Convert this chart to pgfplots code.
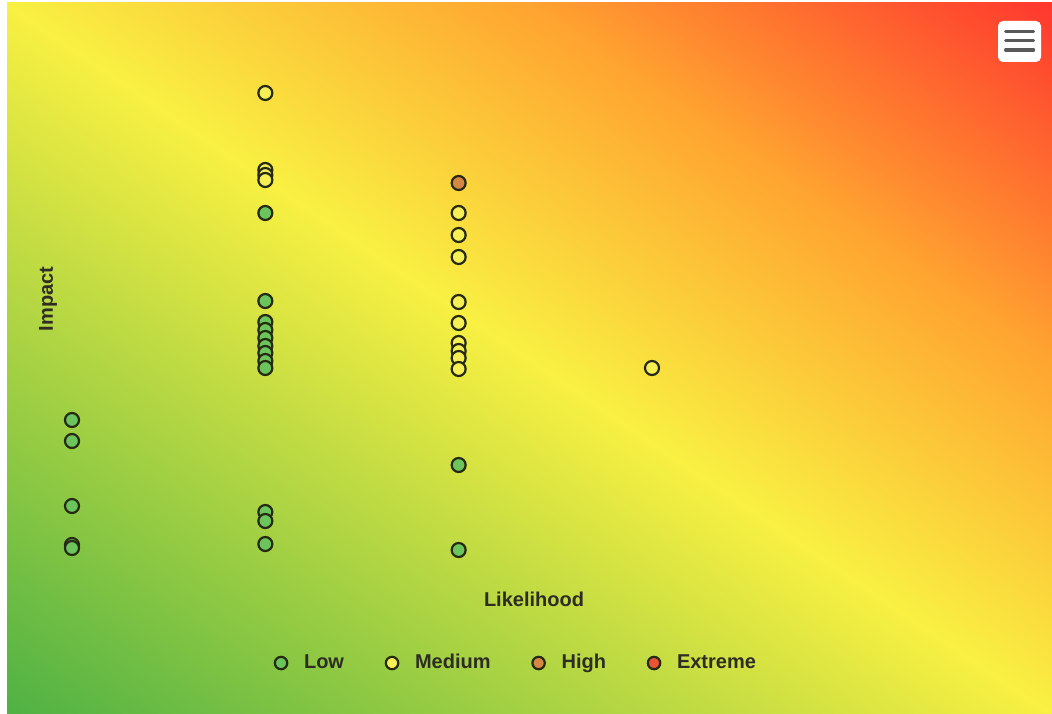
\documentclass[border=0pt]{standalone}
\usepackage{pgfplots}
\pgfplotsset{compat=1.18}
\usepackage{pgfplotstable}
\usepackage{fontspec}
\setmainfont{Liberation Sans}

\definecolor{cGreen}{RGB}{80,178,68}
\definecolor{cYellow}{RGB}{249,240,66}
\definecolor{cOrange}{RGB}{255,164,48}
\definecolor{cRed}{RGB}{255,56,46}
\definecolor{cEdge}{RGB}{38,42,18}
\definecolor{fLow}{RGB}{108,196,92}
\definecolor{fMed}{RGB}{246,240,84}
\definecolor{fHigh}{RGB}{214,136,66}
\definecolor{fExt}{RGB}{232,84,52}
\definecolor{cText}{RGB}{45,45,35}

\pgfdeclarehorizontalshading{riskgrad}{100bp}{color(0bp)=(cGreen); color(14.64bp)=(cGreen); color(50bp)=(cYellow); color(67.68bp)=(cOrange); color(85.36bp)=(cRed); color(100bp)=(cRed)}

\pgfplotstableread{
x y
1 3.60
1 3.18
1 1.88
1 1.10
1 1.04
2 7.74
2 5.98
2 5.56
2 5.40
2 5.24
2 5.08
2 4.94
2 4.78
2 4.64
2 1.76
2 1.58
2 1.12
3 2.70
3 1.00
}\lowdata

\pgfplotstableread{
x y
2 10.14
2 8.60
2 8.50
2 8.40
3 7.74
3 7.30
3 6.86
3 5.96
3 5.54
3 5.14
3 4.98
3 4.84
3 4.62
4 4.64
}\meddata

\pgfplotstableread{
x y
3 8.34
}\highdata

\begin{document}
\begin{tikzpicture}
\useasboundingbox (0,0) rectangle (526pt,356.5pt);
% background gradient (bounding-box diagonal gradient)
\begin{scope}[transform canvas={shift={(3.5pt,0pt)}, xscale=5.225, yscale=3.55}]
  \shade[shading=riskgrad, shading angle=45] (0,0) rectangle (100pt,100pt);
\end{scope}
% export menu button
\fill[white, rounded corners=2.5pt] (499pt,325.5pt) rectangle (520.5pt,346pt);
\foreach \yy in {340.6pt,336.1pt,331.5pt}{
  \draw[line width=1.6pt, line cap=round, black!65] (502.8pt,\yy) -- (516.8pt,\yy);
}
\begin{axis}[
  at={(0pt,0pt)}, anchor=south west,
  scale only axis, width=526pt, height=356.5pt,
  xmin=0.6276, xmax=6.069, ymin=-2.26, ymax=12,
  hide axis, clip=false,
  every axis plot/.append style={only marks, mark=*, mark size=3.5pt, line width=1.1pt},
  legend columns=4,
  legend image code/.code={\path[draw=none,fill=none] (-4pt,0pt) -- (8pt,0pt); \draw[#1, only marks, mark size=3.1pt] plot coordinates {(0pt,0pt)};},
  legend style={at={(0.4924,0.0701)}, anchor=center, draw=none, fill=none,
    font=\bfseries\color{cText}, nodes={inner sep=3.5pt},
    /tikz/every even column/.append style={column sep=16.5pt}},
]
\addplot[draw=cEdge, fill=fLow] table[x=x,y=y]{\lowdata};
\addlegendentry{Low}
\addplot[draw=cEdge, fill=fMed] table[x=x,y=y]{\meddata};
\addlegendentry{Medium}
\addplot[draw=cEdge, fill=fHigh] table[x=x,y=y]{\highdata};
\addlegendentry{High}
\addlegendimage{only marks, mark=*, line width=1.1pt, draw=cEdge, fill=fExt}
\addlegendentry{Extreme}
\end{axis}
\node[font=\bfseries, text=cText] at (267pt,57pt) {Likelihood};
\node[font=\bfseries, text=cText, rotate=90] at (24pt,207pt) {Impact};
\end{tikzpicture}
\end{document}
